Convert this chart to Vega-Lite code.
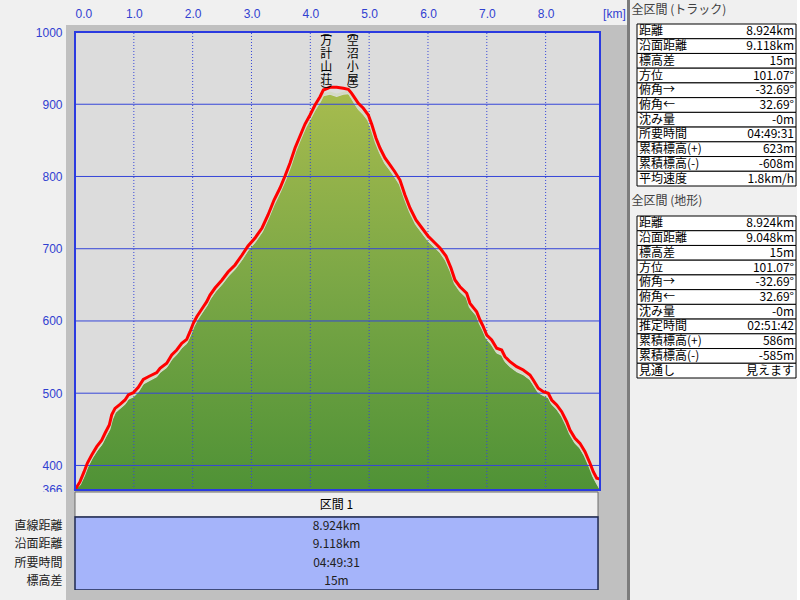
{
  "$schema": "https://vega.github.io/schema/vega-lite/v6.json",
  "background": "#f0f0f0",
  "padding": 0,
  "autosize": {"type": "pad"},
  "columns": 5,
  "align": "none",
  "bounds": "flush",
  "spacing": 0,
  "config": {
    "view": {"stroke": null},
    "font": "Noto Sans CJK JP",
    "text": {"font": "Noto Sans CJK JP"},
    "title": {"font": "Noto Sans CJK JP"}
  },
  "datasets": {
    "profile": [
      {"km": 0.000, "track": 366, "terrain": 366},
      {"km": 0.085, "track": 377.5, "terrain": 372},
      {"km": 0.153, "track": 391, "terrain": 384},
      {"km": 0.209, "track": 403, "terrain": 396},
      {"km": 0.284, "track": 414.5, "terrain": 408},
      {"km": 0.369, "track": 426, "terrain": 419},
      {"km": 0.454, "track": 435, "terrain": 428},
      {"km": 0.510, "track": 444.5, "terrain": 437},
      {"km": 0.583, "track": 456, "terrain": 448},
      {"km": 0.624, "track": 470, "terrain": 461},
      {"km": 0.680, "track": 479, "terrain": 472},
      {"km": 0.765, "track": 484.6, "terrain": 478},
      {"km": 0.850, "track": 490.6, "terrain": 484},
      {"km": 0.906, "track": 497.5, "terrain": 491},
      {"km": 0.991, "track": 500.7, "terrain": 494},
      {"km": 1.076, "track": 508.2, "terrain": 501},
      {"km": 1.161, "track": 519.2, "terrain": 512},
      {"km": 1.246, "track": 522.8, "terrain": 516},
      {"km": 1.389, "track": 528.4, "terrain": 522},
      {"km": 1.445, "track": 534.5, "terrain": 528},
      {"km": 1.559, "track": 541.4, "terrain": 535},
      {"km": 1.644, "track": 552.9, "terrain": 546},
      {"km": 1.729, "track": 559.8, "terrain": 553},
      {"km": 1.814, "track": 569.1, "terrain": 562},
      {"km": 1.899, "track": 574.6, "terrain": 568},
      {"km": 1.955, "track": 585.1, "terrain": 578},
      {"km": 2.011, "track": 596.8, "terrain": 590},
      {"km": 2.069, "track": 605.9, "terrain": 599},
      {"km": 2.125, "track": 612.8, "terrain": 606},
      {"km": 2.181, "track": 619.7, "terrain": 613},
      {"km": 2.239, "track": 626.7, "terrain": 620},
      {"km": 2.295, "track": 635.9, "terrain": 629},
      {"km": 2.380, "track": 645.6, "terrain": 639},
      {"km": 2.499, "track": 656.7, "terrain": 650},
      {"km": 2.601, "track": 667.8, "terrain": 661},
      {"km": 2.720, "track": 677.5, "terrain": 671},
      {"km": 2.839, "track": 691.3, "terrain": 684},
      {"km": 2.941, "track": 703.8, "terrain": 697},
      {"km": 3.060, "track": 714.8, "terrain": 708},
      {"km": 3.179, "track": 728.7, "terrain": 722},
      {"km": 3.281, "track": 746.7, "terrain": 740},
      {"km": 3.383, "track": 767.4, "terrain": 760},
      {"km": 3.485, "track": 784, "terrain": 777},
      {"km": 3.570, "track": 800.7, "terrain": 793},
      {"km": 3.655, "track": 818.7, "terrain": 811},
      {"km": 3.740, "track": 839.4, "terrain": 832},
      {"km": 3.825, "track": 856, "terrain": 849},
      {"km": 3.910, "track": 872.6, "terrain": 865},
      {"km": 3.995, "track": 885.1, "terrain": 878},
      {"km": 4.080, "track": 898.9, "terrain": 891},
      {"km": 4.165, "track": 910.4, "terrain": 902},
      {"km": 4.221, "track": 919.7, "terrain": 911},
      {"km": 4.334, "track": 923.4, "terrain": 913},
      {"km": 4.448, "track": 923.4, "terrain": 910},
      {"km": 4.561, "track": 922.1, "terrain": 913},
      {"km": 4.646, "track": 920.7, "terrain": 914},
      {"km": 4.703, "track": 915.1, "terrain": 907},
      {"km": 4.760, "track": 908.2, "terrain": 899},
      {"km": 4.816, "track": 901.3, "terrain": 892},
      {"km": 4.901, "track": 894.4, "terrain": 885},
      {"km": 4.986, "track": 885.1, "terrain": 876},
      {"km": 5.048, "track": 871.3, "terrain": 862},
      {"km": 5.116, "track": 853.3, "terrain": 845},
      {"km": 5.184, "track": 839.4, "terrain": 831},
      {"km": 5.269, "track": 825.6, "terrain": 817},
      {"km": 5.354, "track": 815.9, "terrain": 808},
      {"km": 5.439, "track": 806.2, "terrain": 798},
      {"km": 5.524, "track": 795.1, "terrain": 787},
      {"km": 5.609, "track": 774.4, "terrain": 767},
      {"km": 5.694, "track": 756.4, "terrain": 749},
      {"km": 5.796, "track": 739.8, "terrain": 732},
      {"km": 5.898, "track": 728.7, "terrain": 721},
      {"km": 6.000, "track": 717.6, "terrain": 710},
      {"km": 6.102, "track": 709.3, "terrain": 702},
      {"km": 6.204, "track": 701, "terrain": 694},
      {"km": 6.306, "track": 689.9, "terrain": 682},
      {"km": 6.391, "track": 673.3, "terrain": 666},
      {"km": 6.459, "track": 656.7, "terrain": 650},
      {"km": 6.544, "track": 647.4, "terrain": 640},
      {"km": 6.658, "track": 638.3, "terrain": 631},
      {"km": 6.714, "track": 624.4, "terrain": 617},
      {"km": 6.828, "track": 612.8, "terrain": 606},
      {"km": 6.884, "track": 601.3, "terrain": 594},
      {"km": 6.940, "track": 592.1, "terrain": 585},
      {"km": 6.998, "track": 580.6, "terrain": 574},
      {"km": 7.083, "track": 573.6, "terrain": 566},
      {"km": 7.168, "track": 562.2, "terrain": 555},
      {"km": 7.253, "track": 559.8, "terrain": 552},
      {"km": 7.309, "track": 550.5, "terrain": 543},
      {"km": 7.394, "track": 543.6, "terrain": 536},
      {"km": 7.508, "track": 536.7, "terrain": 529},
      {"km": 7.620, "track": 532.1, "terrain": 525},
      {"km": 7.734, "track": 525.2, "terrain": 518},
      {"km": 7.790, "track": 518.3, "terrain": 511},
      {"km": 7.875, "track": 506.8, "terrain": 500},
      {"km": 7.960, "track": 502.1, "terrain": 496},
      {"km": 8.045, "track": 499.9, "terrain": 493},
      {"km": 8.103, "track": 490.6, "terrain": 484},
      {"km": 8.188, "track": 483.7, "terrain": 477},
      {"km": 8.273, "track": 474.4, "terrain": 467},
      {"km": 8.358, "track": 460.5, "terrain": 453},
      {"km": 8.414, "track": 449.1, "terrain": 442},
      {"km": 8.499, "track": 437.6, "terrain": 430},
      {"km": 8.584, "track": 430.6, "terrain": 423},
      {"km": 8.669, "track": 419, "terrain": 411},
      {"km": 8.754, "track": 403, "terrain": 395},
      {"km": 8.810, "track": 391.3, "terrain": 383},
      {"km": 8.868, "track": 382.2, "terrain": 374},
      {"km": 8.924, "track": 381, "terrain": 366}
    ],
    "grid_h": [{"m": 400}, {"m": 500}, {"m": 600}, {"m": 700}, {"m": 800}, {"m": 900}],
    "grid_v": [{"km": 0}, {"km": 1}, {"km": 2}, {"km": 3}, {"km": 4}, {"km": 5}, {"km": 6}, {"km": 7}, {"km": 8}],
    "places": [
      {"km": 4.27, "name": "万\n計\n山\n荘"},
      {"km": 4.72, "name": "空\n沼\n小\n屋"}
    ],
    "section": [
      {"sec": "区間 1", "label": "直線距離", "value": "8.924km"},
      {"sec": "区間 1", "label": "沿面距離", "value": "9.118km"},
      {"sec": "区間 1", "label": "所要時間", "value": "04:49:31"},
      {"sec": "区間 1", "label": "標高差", "value": "15m"}
    ],
    "track_stats": [
      {"label": "距離", "value": "8.924km"},
      {"label": "沿面距離", "value": "9.118km"},
      {"label": "標高差", "value": "15m"},
      {"label": "方位", "value": "101.07°"},
      {"label": "俯角→", "value": "-32.69°"},
      {"label": "俯角←", "value": "32.69°"},
      {"label": "沈み量", "value": "-0m"},
      {"label": "所要時間", "value": "04:49:31"},
      {"label": "累積標高(+)", "value": "623m"},
      {"label": "累積標高(-)", "value": "-608m"},
      {"label": "平均速度", "value": "1.8km/h"}
    ],
    "terrain_stats": [
      {"label": "距離", "value": "8.924km"},
      {"label": "沿面距離", "value": "9.048km"},
      {"label": "標高差", "value": "15m"},
      {"label": "方位", "value": "101.07°"},
      {"label": "俯角→", "value": "-32.69°"},
      {"label": "俯角←", "value": "32.69°"},
      {"label": "沈み量", "value": "-0m"},
      {"label": "推定時間", "value": "02:51:42"},
      {"label": "累積標高(+)", "value": "586m"},
      {"label": "累積標高(-)", "value": "-585m"},
      {"label": "見通し", "value": "見えます"}
    ]
  },
  "concat": [
    {"width": 66, "height": 25, "view": {"fill": "#f0f0f0"}, "data": {"values": [{}]}, "mark": {"type": "point", "opacity": 0}},
    {"width": 561, "height": 25, "view": {"fill": "#f0f0f0"}, "data": {"values": [{}]}, "mark": {"type": "point", "opacity": 0}},
    {"width": 3, "height": 25, "view": {"fill": "#7c7c7c"}, "data": {"values": [{}]}, "mark": {"type": "point", "opacity": 0}},
    {"width": 7, "height": 25, "data": {"values": [{}]}, "mark": {"type": "point", "opacity": 0}},
    {
      "spacing": 0,
      "bounds": "flush",
      "vconcat": [
        {"width": 159, "height": 24, "data": {"values": [{}]}, "mark": {"type": "point", "opacity": 0}},
        {
          "width": 159,
          "height": 162,
          "title": {"text": "全区間 (トラック)", "anchor": "start", "offset": 7, "fontSize": 12, "fontWeight": "normal", "color": "#404040", "dx": -5},
          "data": {"name": "track_stats"},
          "encoding": {"y": {"field": "label", "type": "nominal", "sort": null, "scale": {"type": "band", "paddingInner": 0, "paddingOuter": 0}, "axis": null}},
          "layer": [
            {"mark": {"type": "rect", "fill": "#ffffff", "stroke": "#000000", "strokeWidth": 1},
              "encoding": {"x": {"datum": 0, "type": "quantitative", "scale": {"domain": [0, 1], "nice": false, "zero": false}, "axis": null}, "x2": {"datum": 1}}},
            {"mark": {"type": "text", "align": "left", "dx": 2, "fontSize": 12, "color": "#000000"},
              "encoding": {"x": {"datum": 0, "type": "quantitative"}, "text": {"field": "label"}}},
            {"mark": {"type": "text", "align": "right", "dx": -2, "fontSize": 12, "color": "#000000"},
              "encoding": {"x": {"datum": 1, "type": "quantitative"}, "text": {"field": "value"}}}
          ]
        },
        {"width": 159, "height": 30, "data": {"values": [{}]}, "mark": {"type": "point", "opacity": 0}},
        {
          "width": 159,
          "height": 162,
          "title": {"text": "全区間 (地形)", "anchor": "start", "offset": 8, "fontSize": 12, "fontWeight": "normal", "color": "#404040", "dx": -5},
          "data": {"name": "terrain_stats"},
          "encoding": {"y": {"field": "label", "type": "nominal", "sort": null, "scale": {"type": "band", "paddingInner": 0, "paddingOuter": 0}, "axis": null}},
          "layer": [
            {"mark": {"type": "rect", "fill": "#ffffff", "stroke": "#000000", "strokeWidth": 1},
              "encoding": {"x": {"datum": 0, "type": "quantitative", "scale": {"domain": [0, 1], "nice": false, "zero": false}, "axis": null}, "x2": {"datum": 1}}},
            {"mark": {"type": "text", "align": "left", "dx": 2, "fontSize": 12, "color": "#000000"},
              "encoding": {"x": {"datum": 0, "type": "quantitative"}, "text": {"field": "label"}}},
            {"mark": {"type": "text", "align": "right", "dx": -2, "fontSize": 12, "color": "#000000"},
              "encoding": {"x": {"datum": 1, "type": "quantitative"}, "text": {"field": "value"}}}
          ]
        }
      ]
    },

    {"width": 66, "height": 467, "view": {"fill": "#f0f0f0"}, "data": {"values": [{}]}, "mark": {"type": "point", "opacity": 0}},
    {
      "width": 561,
      "height": 467,
      "view": {"fill": "#c0c0c0"},
      "layer": [
        {
          "data": {"values": [{}]},
          "mark": {"type": "rect", "fill": "#dcdcdc"},
          "encoding": {
            "x": {"datum": 0, "type": "quantitative",
              "scale": {"domain": [-0.153, 9.383], "nice": false, "zero": false},
              "axis": {"orient": "top", "values": [0, 1, 2, 3, 4, 5, 6, 7, 8, 9.16],
                "labelExpr": "datum.value > 9 ? '[km]' : format(datum.value, '.1f')",
                "labelAlign": {"condition": {"test": "datum.value == 0", "value": "left"}, "value": "center"},
                "domain": false, "ticks": false, "grid": false, "labelPadding": 5, "labelFontSize": 12,
                "labelColor": "#3040d0", "labelFont": "Liberation Sans", "labelOverlap": false, "labelFlush": false, "title": null}},
            "x2": {"datum": 8.924},
            "y": {"datum": 366, "type": "quantitative",
              "scale": {"domain": [363.23, 1009.69], "nice": false, "zero": false},
              "axis": {"orient": "left", "values": [366, 400, 500, 600, 700, 800, 900, 1000], "format": "d",
                "domain": false, "ticks": false, "grid": false, "labelPadding": 4, "labelFontSize": 12,
                "labelColor": "#3040d0", "labelFont": "Liberation Sans", "labelOverlap": false, "labelFlush": false, "title": null}},
            "y2": {"datum": 1000}
          }
        },
        {
          "data": {"name": "profile"},
          "mark": {"type": "area", "color": {"gradient": "linear", "x1": 0, "y1": 0, "x2": 0, "y2": 1,
            "stops": [{"offset": 0, "color": "#a6bb4e"}, {"offset": 0.5, "color": "#79a645"}, {"offset": 1, "color": "#4f9236"}]}},
          "encoding": {
            "x": {"field": "km", "type": "quantitative", "scale": {"domain": [-0.153, 9.383], "nice": false, "zero": false}},
            "y": {"field": "terrain", "type": "quantitative", "scale": {"domain": [363.23, 1009.69], "nice": false, "zero": false}},
            "y2": {"datum": 366}
          }
        },
        {
          "data": {"name": "profile"},
          "mark": {"type": "line", "color": "#d4dac6", "strokeWidth": 2.5, "yOffset": -2},
          "encoding": {
            "x": {"field": "km", "type": "quantitative"},
            "y": {"field": "terrain", "type": "quantitative"}
          }
        },
        {
          "data": {"name": "grid_h"},
          "mark": {"type": "rule", "color": "#3646d8", "strokeWidth": 1},
          "encoding": {
            "y": {"field": "m", "type": "quantitative"},
            "x": {"datum": 0},
            "x2": {"datum": 8.924}
          }
        },
        {
          "data": {"name": "grid_v"},
          "mark": {"type": "rule", "color": "#3646d8", "strokeWidth": 1, "strokeDash": [1, 2]},
          "encoding": {
            "x": {"field": "km", "type": "quantitative"},
            "y": {"datum": 366},
            "y2": {"datum": 1000}
          }
        },
        {
          "data": {"name": "profile"},
          "mark": {"type": "line", "color": "#ff0000", "strokeWidth": 3},
          "encoding": {
            "x": {"field": "km", "type": "quantitative"},
            "y": {"field": "track", "type": "quantitative"}
          }
        },
        {
          "data": {"values": [{}]},
          "mark": {"type": "rect", "fillOpacity": 0, "stroke": "#2a3ae0", "strokeWidth": 2},
          "encoding": {
            "x": {"datum": 0},
            "x2": {"datum": 8.924},
            "y": {"datum": 366},
            "y2": {"datum": 1000}
          }
        },
        {
          "data": {"name": "places"},
          "mark": {"type": "text", "baseline": "middle", "fontSize": 11, "color": "#000000"},
          "encoding": {
            "x": {"field": "km", "type": "quantitative"},
            "y": {"datum": 999},
            "text": {"value": "︵"}
          }
        },
        {
          "data": {"name": "places"},
          "mark": {"type": "text", "lineBreak": "\n", "baseline": "top", "fontSize": 12, "lineHeight": 13, "color": "#000000"},
          "encoding": {
            "x": {"field": "km", "type": "quantitative"},
            "y": {"datum": 994.5},
            "text": {"field": "name"}
          }
        },
        {
          "data": {"name": "places"},
          "mark": {"type": "text", "baseline": "top", "fontSize": 11, "color": "#000000"},
          "encoding": {
            "x": {"field": "km", "type": "quantitative"},
            "y": {"datum": 925},
            "text": {"value": "︶"}
          }
        }
      ]
    },
    {"width": 3, "height": 467, "view": {"fill": "#7c7c7c"}, "data": {"values": [{}]}, "mark": {"type": "point", "opacity": 0}},
    {"width": 7, "height": 467, "data": {"values": [{}]}, "mark": {"type": "point", "opacity": 0}},
    {"width": 159, "height": 467, "data": {"values": [{}]}, "mark": {"type": "point", "opacity": 0}},

    {"width": 66, "height": 25, "view": {"fill": "#f0f0f0"}, "data": {"values": [{}]}, "mark": {"type": "point", "opacity": 0}},
    {
      "width": 561,
      "height": 25,
      "view": {"fill": "#c0c0c0"},
      "data": {"values": [{"sec": "区間 1"}]},
      "encoding": {
        "x": {"field": "sec", "type": "nominal", "scale": {"type": "band", "paddingInner": 0, "paddingOuter": 0.0363, "align": 0.237}, "axis": null},
        "y": {"field": "sec", "type": "nominal", "scale": {"type": "band", "paddingInner": 0, "paddingOuter": 0}, "axis": null}
      },
      "layer": [
        {"mark": {"type": "rect", "fill": "#f0f0f0", "stroke": "#6a6a6a", "strokeWidth": 1}},
        {"mark": {"type": "text", "fontSize": 12, "color": "#000000"}, "encoding": {"text": {"field": "sec"}}}
      ]
    },
    {"width": 3, "height": 25, "view": {"fill": "#7c7c7c"}, "data": {"values": [{}]}, "mark": {"type": "point", "opacity": 0}},
    {"width": 7, "height": 25, "data": {"values": [{}]}, "mark": {"type": "point", "opacity": 0}},
    {"width": 159, "height": 25, "data": {"values": [{}]}, "mark": {"type": "point", "opacity": 0}},

    {"width": 66, "height": 73, "view": {"fill": "#f0f0f0"}, "data": {"values": [{}]}, "mark": {"type": "point", "opacity": 0}},
    {
      "width": 561,
      "height": 73,
      "view": {"fill": "#c0c0c0"},
      "resolve": {"scale": {"y": "independent"}},
      "layer": [
        {
          "data": {"values": [{"sec": "区間 1"}]},
          "mark": {"type": "rect", "fill": "#a5b4fa", "stroke": "#1e2850", "strokeWidth": 1.5},
          "encoding": {
            "x": {"field": "sec", "type": "nominal", "scale": {"type": "band", "paddingInner": 0, "paddingOuter": 0.0363, "align": 0.237}, "axis": null},
            "y": {"field": "sec", "type": "nominal", "scale": {"type": "band", "paddingInner": 0, "paddingOuter": 0}, "axis": null}
          }
        },
        {
          "data": {"name": "section"},
          "mark": {"type": "text", "fontSize": 12, "color": "#202020"},
          "encoding": {
            "x": {"field": "sec", "type": "nominal"},
            "y": {"field": "label", "type": "nominal", "sort": null, "scale": {"type": "band", "paddingInner": 0, "paddingOuter": 0},
              "axis": {"orient": "left", "domain": false, "ticks": false, "labelPadding": 4, "labelFontSize": 12, "labelColor": "#202020", "labelFont": "Noto Sans CJK JP", "title": null}},
            "text": {"field": "value"}
          }
        }
      ]
    },
    {"width": 3, "height": 73, "view": {"fill": "#7c7c7c"}, "data": {"values": [{}]}, "mark": {"type": "point", "opacity": 0}},
    {"width": 7, "height": 73, "data": {"values": [{}]}, "mark": {"type": "point", "opacity": 0}},
    {"width": 159, "height": 73, "data": {"values": [{}]}, "mark": {"type": "point", "opacity": 0}},

    {"width": 66, "height": 10, "view": {"fill": "#f0f0f0"}, "data": {"values": [{}]}, "mark": {"type": "point", "opacity": 0}},
    {"width": 561, "height": 10, "view": {"fill": "#c0c0c0"}, "data": {"values": [{}]}, "mark": {"type": "point", "opacity": 0}},
    {"width": 3, "height": 10, "view": {"fill": "#7c7c7c"}, "data": {"values": [{}]}, "mark": {"type": "point", "opacity": 0}},
    {"width": 7, "height": 10, "data": {"values": [{}]}, "mark": {"type": "point", "opacity": 0}},
    {"width": 159, "height": 10, "data": {"values": [{}]}, "mark": {"type": "point", "opacity": 0}}
  ]
}
